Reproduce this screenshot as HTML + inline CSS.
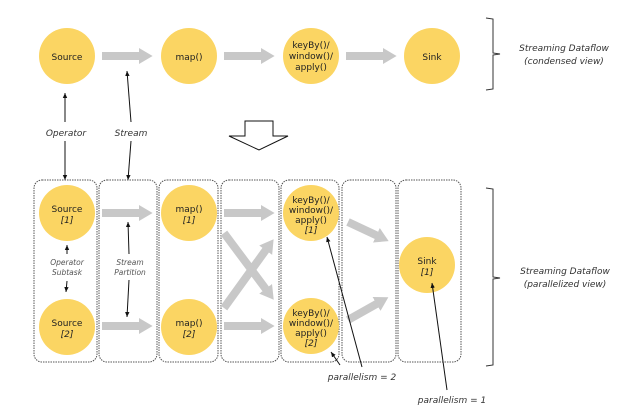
<!DOCTYPE html>
<html><head><meta charset="utf-8"><style>
html,body{margin:0;padding:0;background:#fff;}
svg{display:block;font-family:"DejaVu Sans","Liberation Sans",sans-serif;}
.n{fill:#FBD563;}
.t{font-size:9px;fill:#222;text-anchor:middle;}
.i{font-style:italic;}
.box{fill:none;stroke:#555;stroke-width:1;stroke-dasharray:1.5 1;}
.ln{stroke:#111;stroke-width:1;fill:none;}
.lab{font-size:9px;font-style:italic;fill:#333;text-anchor:middle;}
.sm{font-size:7.5px;font-style:italic;fill:#555;text-anchor:middle;}
</style></head><body>
<svg width="639" height="419" viewBox="0 0 639 419" xmlns="http://www.w3.org/2000/svg">
<defs>
<marker id="a" markerWidth="6" markerHeight="6" refX="5" refY="3" orient="auto"><path d="M0,0.8 L5,3 L0,5.2 z" fill="#111"/></marker>
<marker id="ga" markerWidth="2" markerHeight="2" refX="0.5" refY="1" orient="auto" markerUnits="strokeWidth"><path d="M0,0 L1.7,1 L0,2 z" fill="#c8c8c8"/></marker>
</defs>
<g stroke="#c8c8c8" stroke-width="8" marker-end="url(#ga)">
<line x1="102" y1="56" x2="143" y2="56"/>
<line x1="224" y1="56" x2="265" y2="56"/>
<line x1="346" y1="56" x2="387" y2="56"/>
</g>
<circle class="n" cx="67" cy="56" r="28"/>
<circle class="n" cx="189" cy="56" r="28"/>
<circle class="n" cx="311" cy="56" r="28"/>
<circle class="n" cx="432" cy="56" r="28"/>
<text class="t" x="67" y="60">Source</text>
<text class="t" x="189" y="60">map()</text>
<text class="t" x="311" y="48">keyBy()/</text>
<text class="t" x="311" y="59">window()/</text>
<text class="t" x="311" y="70">apply()</text>
<text class="t" x="432" y="60">Sink</text>
<path d="M486,18 L493,19 L493,53 L500,54 L493,55 L493,89 L486,90" fill="none" stroke="#333" stroke-width="1"/>
<text class="lab" x="564" y="51">Streaming Dataflow</text>
<text class="lab" x="564" y="64">(condensed view)</text>

<line class="ln" x1="65" y1="122" x2="65" y2="93" marker-end="url(#a)"/>
<line class="ln" x1="65" y1="141" x2="65" y2="180" marker-end="url(#a)"/>
<text class="lab" x="66" y="136">Operator</text>
<line class="ln" x1="131" y1="122" x2="127" y2="71" marker-end="url(#a)"/>
<line class="ln" x1="131" y1="141" x2="128" y2="180" marker-end="url(#a)"/>
<text class="lab" x="131" y="136">Stream</text>

<path d="M245,121 L273,121 L273,136 L288,136 L259,150 L229,136 L245,136 z" fill="#fff" stroke="#111" stroke-width="1"/>

<rect class="box" x="34" y="180" width="63" height="182" rx="8"/>
<rect class="box" x="99" y="180" width="58" height="182" rx="8"/>
<rect class="box" x="159" y="180" width="59" height="182" rx="8"/>
<rect class="box" x="221" y="180" width="58" height="182" rx="8"/>
<rect class="box" x="281" y="180" width="58" height="182" rx="8"/>
<rect class="box" x="342" y="180" width="54" height="182" rx="8"/>
<rect class="box" x="398" y="180" width="63" height="182" rx="8"/>

<g stroke="#c8c8c8" stroke-width="8" marker-end="url(#ga)">
<line x1="102" y1="213" x2="143" y2="213"/>
<line x1="102" y1="326" x2="143" y2="326"/>
<line x1="224" y1="213" x2="265" y2="213"/>
<line x1="224" y1="326" x2="265" y2="326"/>
<line x1="224" y1="233" x2="268" y2="292"/>
<line x1="224" y1="308" x2="268" y2="247"/>
<line x1="348" y1="222" x2="380" y2="237"/>
<line x1="348" y1="320" x2="380" y2="302"/>
</g>
<circle class="n" cx="67" cy="213" r="28"/>
<circle class="n" cx="67" cy="327" r="28"/>
<circle class="n" cx="189" cy="213" r="28"/>
<circle class="n" cx="189" cy="327" r="28"/>
<circle class="n" cx="311" cy="213" r="28"/>
<circle class="n" cx="311" cy="326" r="28"/>
<circle class="n" cx="427" cy="265" r="28"/>
<text class="t" x="67" y="212">Source</text><text class="t i" x="67" y="223">[1]</text>
<text class="t" x="67" y="326">Source</text><text class="t i" x="67" y="337">[2]</text>
<text class="t" x="189" y="212">map()</text><text class="t i" x="189" y="223">[1]</text>
<text class="t" x="189" y="326">map()</text><text class="t i" x="189" y="337">[2]</text>
<text class="t" x="311" y="203">keyBy()/</text><text class="t" x="311" y="213">window()/</text><text class="t" x="311" y="223">apply()</text><text class="t i" x="311" y="233">[1]</text>
<text class="t" x="311" y="316">keyBy()/</text><text class="t" x="311" y="326">window()/</text><text class="t" x="311" y="336">apply()</text><text class="t i" x="311" y="346">[2]</text>
<text class="t" x="427" y="264">Sink</text><text class="t i" x="427" y="275">[1]</text>

<line class="ln" x1="67" y1="254" x2="67" y2="245" marker-end="url(#a)"/>
<line class="ln" x1="67" y1="281" x2="66" y2="292" marker-end="url(#a)"/>
<text class="sm" x="67" y="265">Operator</text>
<text class="sm" x="67" y="275">Subtask</text>
<line class="ln" x1="129" y1="254" x2="128" y2="222" marker-end="url(#a)"/>
<line class="ln" x1="129" y1="280" x2="127" y2="317" marker-end="url(#a)"/>
<text class="sm" x="130" y="265">Stream</text>
<text class="sm" x="130" y="275">Partition</text>

<path d="M486,188 L493,189 L493,277 L500,278 L493,279 L493,365 L486,366" fill="none" stroke="#333" stroke-width="1"/>
<text class="lab" x="565" y="274">Streaming Dataflow</text>
<text class="lab" x="565" y="287">(parallelized view)</text>

<line class="ln" x1="362" y1="367" x2="327" y2="237" marker-end="url(#a)"/>
<line class="ln" x1="340" y1="365" x2="331" y2="352" marker-end="url(#a)"/>
<text class="lab" x="362" y="380">parallelism = 2</text>
<line class="ln" x1="447" y1="390" x2="432" y2="283" marker-end="url(#a)"/>
<text class="lab" x="452" y="403">parallelism = 1</text>
</svg>
</body></html>
